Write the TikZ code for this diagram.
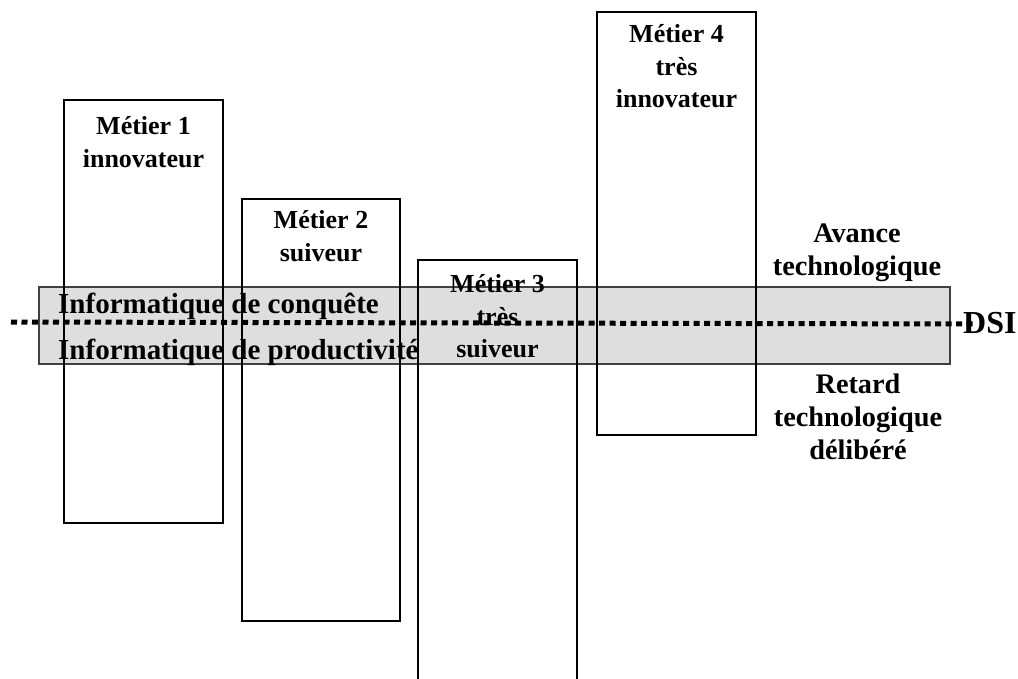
\documentclass[tikz,border=0pt]{standalone}
\usepackage{fontspec}
\setmainfont{Liberation Serif}
\begin{document}
\begin{tikzpicture}[x=1pt,y=-1pt,
  box/.style={draw=black, line width=1.5pt, rectangle, inner sep=0pt},
  band/.style={draw=black!75, fill=black!13, line width=1.5pt, rectangle, inner sep=0pt},
  lbl/.style={font=\bfseries\fontsize{26}{32.5}\selectfont, align=center, inner sep=0pt},
  bandtxt/.style={font=\bfseries\fontsize{29}{34}\selectfont, inner sep=0pt, anchor=base west},
  side/.style={font=\bfseries\fontsize{28.3}{33}\selectfont, align=center, inner sep=0pt},
  dsiline/.style={line width=5pt, dash pattern=on 6pt off 4.5pt}]
\useasboundingbox (0,0) rectangle (1018,679);
% band
\node[band, minimum width=911pt, minimum height=77pt] (band) at (494.5,325.5) {};
% boxes
\node[box, minimum width=159pt, minimum height=423pt] (m1) at (143.5,311.5) {};
\node[box, minimum width=158pt, minimum height=422pt] (m2) at (321,410) {};
\node[box, minimum width=159pt, minimum height=440pt] (m3) at (497.5,480) {};
\node[box, minimum width=159pt, minimum height=423pt] (m4) at (676.5,223.5) {};
% box labels
\node[lbl] (t1) at ([yshift=-43pt]m1.north) {Métier 1\\innovateur};
\node[lbl] (t2) at ([yshift=-38pt]m2.north) {Métier 2\\suiveur};
\node[lbl] (t3) at ([yshift=-57pt]m3.north) {Métier 3\\très\\suiveur};
\node[lbl] (t4) at ([yshift=-55pt]m4.north) {Métier 4\\très\\innovateur};
% band texts
\node[bandtxt] (conq) at (58,313) {Informatique de conquête};
\node[bandtxt] (prod) at (58,359) {Informatique de productivité};
% side texts
\node[side] (av) at (857,253) {Avance\\technologique};
\node[side] (re) at (858,417) {Retard\\technologique\\délibéré};
% DSI line
\node[font=\bfseries\fontsize{32}{38}\selectfont, inner sep=0pt, anchor=west] (dsi) at (963,323) {DSI};
\coordinate (l0) at (11,322);
\draw[dsiline] (l0) -- ([xshift=13pt,yshift=-1pt]dsi.west);
\end{tikzpicture}
\end{document}
